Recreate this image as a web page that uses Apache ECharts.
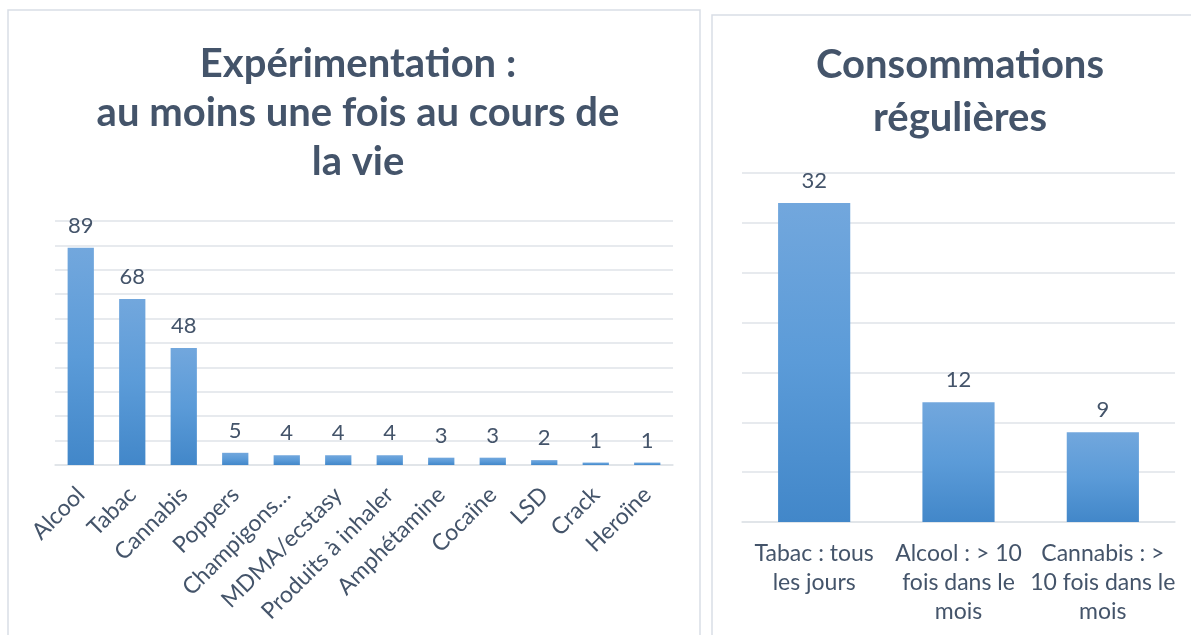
<!DOCTYPE html>
<html><head><meta charset="utf-8">
<script src="https://cdn.jsdelivr.net/npm/echarts@6/dist/echarts.min.js"></script>
<style>html,body{margin:0;padding:0;background:#fff}#c{width:1191px;height:635px}</style>
</head><body><div id="c"></div>
<script>
const expCategories = ['Alcool','Tabac','Cannabis','Poppers','Champigons…','MDMA/ecstasy','Produits à inhaler','Amphétamine','Cocaïne','LSD','Crack','Heroïne'];
const expValues = [89,68,48,5,4,4,4,3,3,2,1,1];
const regCategories = ['Tabac : tous\nles jours','Alcool : > 10\nfois dans le\nmois','Cannabis : >\n10 fois dans le\nmois'];
const regValues = [32,12,9];
const expTitle = 'Expérimentation :\nau moins une fois au cours de\nla vie';
const regTitle = 'Consommations\nrégulières';

const FONT = 'Lato';
const TXT = '#44546a';
const GRIDC = '#dfe3e8';
const barColor = new echarts.graphic.LinearGradient(0,0,0,1,[
  {offset:0,color:'#72a7dd'},{offset:0.5,color:'#5b9bd8'},{offset:1,color:'#4287c9'}]);

const chart = echarts.init(document.getElementById('c'), null, {renderer:'canvas'});
chart.setOption({
  animation:false,
  textStyle:{fontFamily:FONT},
  graphic:[
    {type:'rect',shape:{x:8,y:10,width:692,height:640},style:{fill:'none',stroke:'#d9dee6',lineWidth:1.5},silent:true},
    {type:'rect',shape:{x:712,y:15,width:500,height:640},style:{fill:'none',stroke:'#d9dee6',lineWidth:1.5},silent:true}
  ],
  title:[
    {text:expTitle,left:353,top:35,textAlign:'center',textStyle:{fontFamily:FONT,fontWeight:'bold',fontSize:40,color:TXT,lineHeight:49}},
    {text:regTitle,left:955,top:34,textAlign:'center',textStyle:{fontFamily:FONT,fontWeight:'bold',fontSize:40,color:TXT,lineHeight:53}}
  ],
  grid:[
    {left:55,right:518,top:221,bottom:170},
    {left:742,right:16,top:173,bottom:113}
  ],
  xAxis:[
    {type:'category',gridIndex:0,data:expCategories,axisTick:{show:false},
     axisLine:{lineStyle:{color:GRIDC,width:1.5}},
     axisLabel:{rotate:45,interval:0,fontSize:23,color:TXT,fontFamily:FONT,margin:26}},
    {type:'category',gridIndex:1,data:regCategories,axisTick:{show:false},
     axisLine:{lineStyle:{color:GRIDC,width:1.5}},
     axisLabel:{interval:0,fontSize:23,color:TXT,fontFamily:FONT,margin:17,lineHeight:29}}
  ],
  yAxis:[
    {type:'value',gridIndex:0,min:0,max:100,interval:10,axisLabel:{show:false},axisLine:{show:false},axisTick:{show:false},
     splitLine:{lineStyle:{color:GRIDC,width:1.5}}},
    {type:'value',gridIndex:1,min:0,max:35,interval:5,axisLabel:{show:false},axisLine:{show:false},axisTick:{show:false},
     splitLine:{lineStyle:{color:GRIDC,width:1.5}}}
  ],
  series:[
    {type:'bar',xAxisIndex:0,yAxisIndex:0,data:expValues,barWidth:'51%',itemStyle:{color:barColor},
     label:{show:true,position:'top',distance:11,fontSize:22,color:TXT,fontFamily:FONT}},
    {type:'bar',xAxisIndex:1,yAxisIndex:1,data:regValues,barWidth:'50%',itemStyle:{color:barColor},
     label:{show:true,position:'top',distance:11,fontSize:22,color:TXT,fontFamily:FONT}}
  ]
});
</script></body></html>
